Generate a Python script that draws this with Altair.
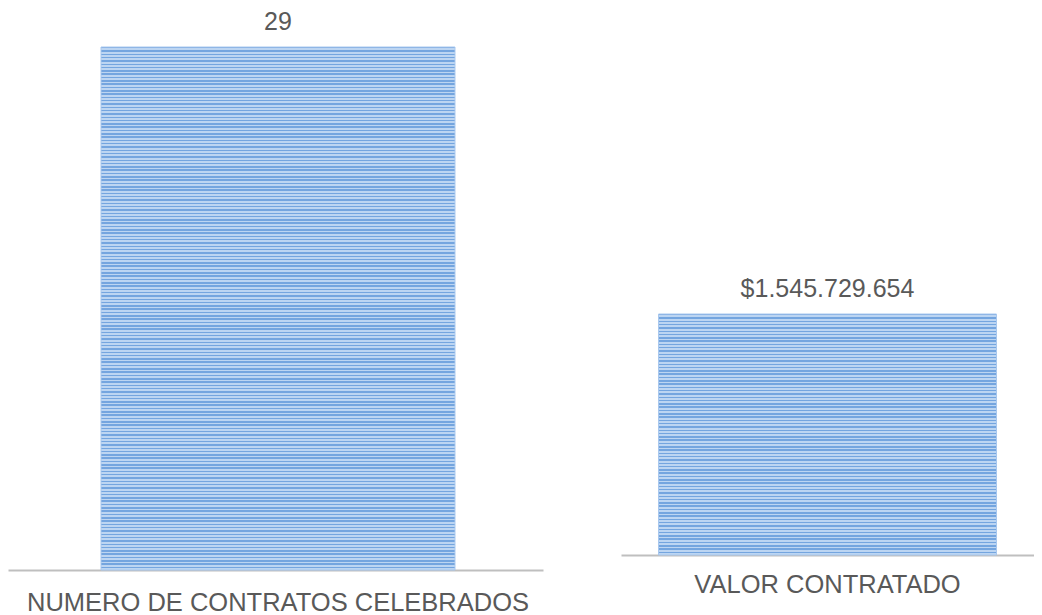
import altair as alt
import pandas as pd

# Data
categories = ["NUMERO DE CONTRATOS CELEBRADOS", "VALOR CONTRATADO"]
values = [29, 1545729654]
value_labels = ["29", "$1.545.729.654"]

FONT = "Liberation Sans"
TXT = "#595959"
DARK = "#74a5df"
LIGHT = "#bcd5f2"


def striped(n):
    stops = []
    for i in range(n):
        a = i / n
        m = (i + 0.45) / n
        b = (i + 1) / n
        stops += [
            alt.GradientStop(color=DARK, offset=a),
            alt.GradientStop(color=DARK, offset=m),
            alt.GradientStop(color=LIGHT, offset=m),
            alt.GradientStop(color=LIGHT, offset=b),
        ]
    return alt.Gradient(gradient="linear", x1=0, y1=0, x2=0, y2=1, stops=stops)


def panel(i, width, height, ymax, barsize, nstripes, labelpad, align):
    df = pd.DataFrame({"cat": [categories[i]], "val": [values[i]], "lab": [value_labels[i]]})
    xscale = alt.Scale(paddingInner=0, paddingOuter=0.1, align=align)
    x = alt.X("cat:N", title=None, scale=xscale,
              axis=alt.Axis(labelAngle=0, labelFontSize=25.5, labelFont=FONT, labelColor=TXT,
                            labelLimit=0, labelPadding=labelpad, ticks=False,
                            domainColor="#bfbfbf", domainWidth=2))
    y = alt.Y("val:Q", scale=alt.Scale(domain=[0, ymax], nice=False, zero=True), axis=None)
    bars = alt.Chart(df).mark_bar(size=barsize, color=striped(nstripes),
                                  stroke="#a9c8ee", strokeWidth=1).encode(x=x, y=y)
    text = alt.Chart(df).mark_text(fontSize=25, font=FONT, color=TXT, baseline="alphabetic",
                                   dy=-17).encode(x=alt.X("cat:N", scale=xscale),
                                                  y=alt.Y("val:Q"), text="lab:N")
    return alt.layer(bars, text).properties(width=width, height=height)


left = panel(0, 535, 562, 29 * 562 / 523, 354, 158, 20, 0.528)
right = panel(1, 413, 547, 1545729654 * 547 / 241, 338, 73, 17, 0.5)

chart = alt.hconcat(left, right, spacing=78).properties(padding=0).configure(
    background="white", view=alt.ViewConfig(strokeWidth=0, stroke="transparent"))

chart.save("out.html", embed_options={"renderer": "svg", "actions": False})
